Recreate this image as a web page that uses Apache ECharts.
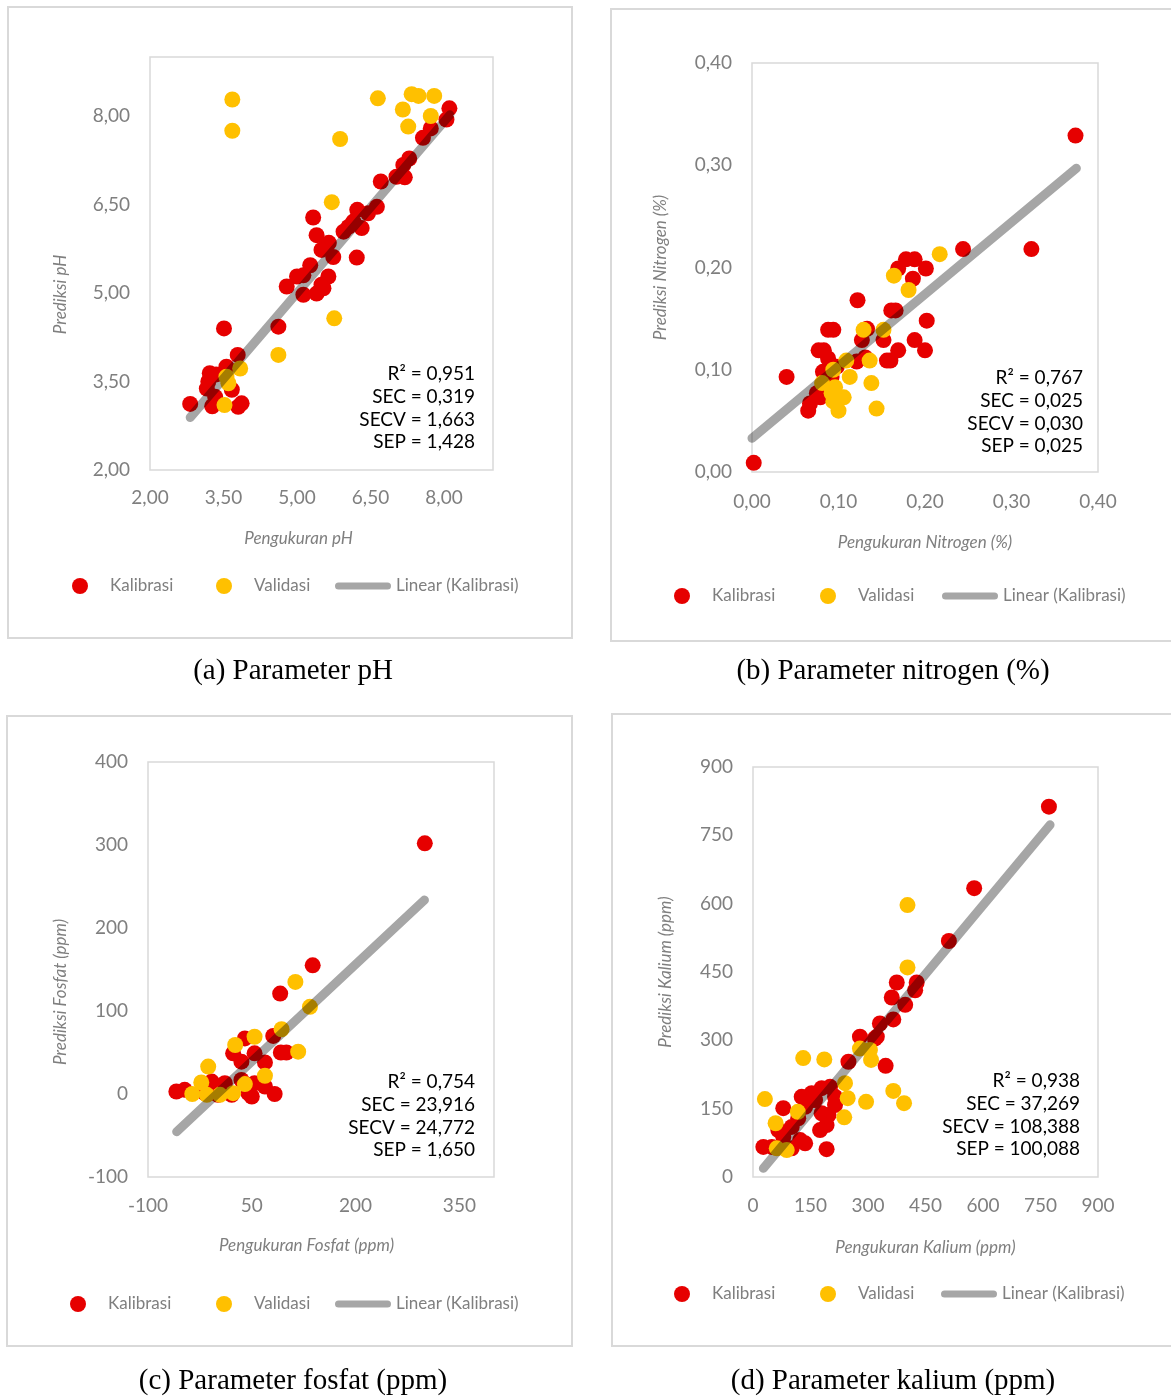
<!DOCTYPE html>
<html><head><meta charset="utf-8">
<script src="https://cdn.jsdelivr.net/npm/echarts@6/dist/echarts.min.js"></script>
<style>html,body{margin:0;padding:0;background:#fff}#c{width:1171px;height:1398px}</style>
</head><body><div id="c"></div><script>
// ---------- DATA ----------
const phKalibrasi = [[3.51,4.40],[4.62,4.43],[3.79,3.95],[3.56,3.75],[3.35,3.62],[3.22,3.64],[3.19,3.50],[3.16,3.38],[3.67,3.36],[3.33,3.24],[2.82,3.12],[3.27,3.08],[3.87,3.13],[3.80,3.07],
  [5.33,6.28],[6.23,6.41],[6.63,6.46],[6.15,6.21],[6.32,6.10],[6.05,6.12],[6.45,6.35],[5.95,6.04],[5.40,5.98],[5.57,5.78],[5.65,5.85],[5.74,5.61],[6.22,5.60],[5.50,5.73],[5.27,5.47],[5.13,5.30],[5.64,5.28],[5.00,5.28],[5.50,5.14],[4.79,5.11],[5.13,4.97],[5.40,4.99],[5.54,5.08],
  [6.71,6.89],[7.03,6.97],[7.20,6.96],[7.17,7.17],[7.29,7.28],[7.57,7.63],[7.73,7.79],[8.05,7.94],[8.11,8.13]];
const phValidasi = [[3.68,8.28],[3.68,7.75],[6.65,8.30],[7.34,8.37],[7.48,8.34],[7.80,8.34],[7.16,8.11],[7.73,8.00],[7.27,7.82],[5.88,7.61],[5.71,6.54],[5.76,4.57],[4.62,3.95],[3.84,3.72],[3.56,3.58],[3.60,3.47],[3.52,3.10]];
const phTrend = [[2.82,2.89],[8.12,8.02]];
const phStats = ['R² = 0,951','SEC = 0,319','SECV = 1,663','SEP = 1,428'];

const nKalibrasi = [[0.374,0.329],[0.323,0.218],[0.244,0.218],[0.002,0.009],[0.040,0.093],[0.122,0.168],[0.178,0.208],[0.188,0.208],[0.169,0.199],[0.201,0.199],[0.186,0.189],[0.161,0.158],[0.166,0.158],[0.202,0.148],[0.088,0.139],[0.094,0.139],[0.133,0.140],[0.188,0.129],[0.200,0.119],[0.077,0.119],[0.083,0.119],[0.152,0.129],[0.169,0.119],[0.160,0.109],[0.127,0.129],[0.131,0.112],[0.121,0.108],[0.088,0.111],[0.098,0.103],[0.082,0.098],[0.092,0.093],[0.075,0.077],[0.067,0.067],[0.065,0.060],[0.079,0.073],[0.156,0.109]];
const nValidasi = [[0.164,0.192],[0.181,0.178],[0.217,0.213],[0.129,0.139],[0.152,0.139],[0.109,0.109],[0.136,0.109],[0.094,0.100],[0.113,0.093],[0.081,0.087],[0.138,0.087],[0.096,0.083],[0.106,0.073],[0.094,0.069],[0.144,0.062],[0.100,0.060],[0.092,0.077]];
const nTrend = [[0.0,0.033],[0.375,0.297]];
const nStats = ['R² = 0,767','SEC = 0,025','SECV = 0,030','SEP = 0,025'];

const pKalibrasi = [[300,302],[138,155],[91,121],[81,70],[100,50],[92,50],[40,67],[23,49],[54,49],[35,39],[69,38],[-59,3],[-47,5],[83,0],[-8,15],[11,13],[35,17],[54,13],[69,9],[45,1],[1,-1],[21,-1],[-18,1],[50,-3]];
const pValidasi = [[113,135],[134,105],[93,78],[54,69],[26,59],[117,51],[-13,33],[69,22],[-23,14],[-36,0],[40,12],[23,1],[-15,-1],[4,-1]];
const pTrend = [[-58.6,-45.4],[299.5,233.7]];
const pStats = ['R² = 0,754','SEC = 23,916','SECV = 24,772','SEP = 1,650'];

const kKalibrasi = [[772,813],[577,634],[511,518],[375,427],[427,427],[362,394],[423,410],[397,378],[366,346],[331,337],[323,308],[279,308],[318,304],[346,244],[249,253],[201,198],[179,195],[153,184],[127,176],[214,176],[214,158],[136,154],[79,151],[179,140],[197,136],[118,129],[101,110],[192,114],[175,103],[123,81],[79,88],[66,103],[27,66],[49,66],[101,63],[136,74],[192,61],[162,169],[144,165]];
const kValidasi = [[403,597],[403,460],[366,189],[394,162],[131,261],[186,258],[279,282],[305,279],[308,257],[240,206],[247,173],[295,165],[31,171],[117,143],[59,118],[238,131],[62,63],[88,59]];
const kTrend = [[27,19],[775,773]];
const kStats = ['R² = 0,938','SEC = 37,269','SECV = 108,388','SEP = 100,088'];

const seriesNames = ['Kalibrasi','Validasi','Linear (Kalibrasi)'];
const captions = ['(a) Parameter pH','(b) Parameter nitrogen (%)','(c) Parameter fosfat (ppm)','(d) Parameter kalium (ppm)'];
const xNames = ['Pengukuran pH','Pengukuran Nitrogen (%)','Pengukuran Fosfat (ppm)','Pengukuran Kalium (ppm)'];
const yNames = ['Prediksi pH','Prediksi Nitrogen (%)','Prediksi Fosfat (ppm)','Prediksi Kalium (ppm)'];

// ---------- LAYOUT / STYLE ----------
const RED = '#e60000', YEL = '#ffc000', GRAY = '#a6a6a6', TXT = '#7f7f7f';
const FONT = 'Lato';
const fmt2 = v => v.toFixed(2).replace('.', ',');
const fmt0 = v => String(Math.round(v));

const panels = [
  {kal: phKalibrasi, val: phValidasi, trend: phTrend, stats: phStats,
   grid: {left:150, top:57, width:343, height:413},
   x: {min:2, max:9, interval:1.5, fmt: fmt2, showMax:false}, y: {min:2, max:9, interval:1.5, fmt: fmt2, showMax:false},
   xGap: 60, yGap: 81, xPad: [0,46,0,0], yPad: [0,62,0,0], xMargin: 18,
   box: [8,7,564,631], statsPos: [475,374], legY: 586, leg: [80,224,335], cap: [293,671]},
  {kal: nKalibrasi, val: nValidasi, trend: nTrend, stats: nStats,
   grid: {left:752, top:63, width:346, height:409},
   x: {min:0, max:0.4, interval:0.1, fmt: fmt2, showMax:true}, y: {min:0, max:0.4, interval:0.1, fmt: fmt2, showMax:true},
   xGap: 62, yGap: 83, xPad: [0,0,0,0], yPad: [0,0,0,0], xMargin: 20,
   box: [611,9,580,632], statsPos: [1083,378], legY: 596, leg: [682,828,942], cap: [893,671]},
  {kal: pKalibrasi, val: pValidasi, trend: pTrend, stats: pStats,
   grid: {left:148, top:762, width:346, height:415},
   x: {min:-100, max:400, interval:150, fmt: fmt0, showMax:false}, y: {min:-100, max:400, interval:100, fmt: fmt0, showMax:true},
   xGap: 60, yGap: 79, xPad: [0,29,0,0], yPad: [0,45,0,0], xMargin: 19,
   box: [7,716,565,630], statsPos: [475,1082], legY: 1304, leg: [78,224,335], cap: [293,1381]},
  {kal: kKalibrasi, val: kValidasi, trend: kTrend, stats: kStats,
   grid: {left:753, top:767, width:345, height:410},
   x: {min:0, max:900, interval:150, fmt: fmt0, showMax:true}, y: {min:0, max:900, interval:150, fmt: fmt0, showMax:true},
   xGap: 62, yGap: 79, xPad: [0,0,0,0], yPad: [0,0,0,0], xMargin: 19,
   box: [612,714,580,632], statsPos: [1080,1081], legY: 1294, leg: [682,828,941], cap: [893,1381]}
];

const option = {animation:false, backgroundColor:'#fff', grid:[], xAxis:[], yAxis:[], series:[], legend:[], graphic:[]};
const capsule = 'path://M3.5,0H52.5A3.5,3.5,0,0,1,52.5,7H3.5A3.5,3.5,0,0,1,3.5,0Z';

panels.forEach((p, i) => {
  option.grid.push(Object.assign({show:true, borderColor:'#d9d9d9', borderWidth:1.5, backgroundColor:'transparent'}, p.grid));
  const axisBase = (a, name, gap, pad, margin) => ({
    gridIndex:i, type:'value', min:a.min, max:a.max, interval:a.interval,
    axisLine:{show:false, onZero:false}, axisTick:{show:false}, splitLine:{show:false},
    axisLabel:{color:TXT, fontSize:19, fontFamily:FONT, margin: margin, formatter:a.fmt, showMaxLabel:a.showMax, showMinLabel:true},
    name:name, nameLocation:'middle', nameGap:gap,
    nameTextStyle:{color:TXT, fontSize:17, fontStyle:'italic', fontFamily:FONT, padding:pad}
  });
  option.xAxis.push(axisBase(p.x, xNames[i], p.xGap, p.xPad, p.xMargin));
  option.yAxis.push(axisBase(p.y, yNames[i], p.yGap, p.yPad, 20));
  option.series.push({type:'scatter', name:seriesNames[0], xAxisIndex:i, yAxisIndex:i, symbol:'circle', symbolSize:16, itemStyle:{color:RED, opacity:1}, z:2, data:p.kal});
  option.series.push({type:'scatter', name:seriesNames[1], xAxisIndex:i, yAxisIndex:i, symbol:'circle', symbolSize:16, itemStyle:{color:YEL, opacity:1}, z:3, data:p.val});
  option.series.push({type:'line', name:seriesNames[2], xAxisIndex:i, yAxisIndex:i, symbol:'none', color:GRAY, itemStyle:{color:GRAY},
    lineStyle:{width:9, color:GRAY, cap:'round'}, blendMode:'multiply', z:4, silent:true, data:p.trend});
  const legText = {color:TXT, fontSize:17, fontFamily:FONT, lineHeight:20};
  option.legend.push({left:p.leg[0]-8, top:p.legY-10, padding:0, itemWidth:50, itemHeight:16, selectedMode:false, textStyle:legText, data:[{name:seriesNames[0], icon:'circle'}]});
  option.legend.push({left:p.leg[1]-8, top:p.legY-10, padding:0, itemWidth:50, itemHeight:16, selectedMode:false, textStyle:legText, data:[{name:seriesNames[1], icon:'circle'}]});
  option.legend.push({left:p.leg[2], top:p.legY-10, padding:0, itemWidth:56, itemHeight:7, selectedMode:false, textStyle:legText,
    itemStyle:{color:GRAY, borderWidth:0}, lineStyle:{width:0}, data:[{name:seriesNames[2], icon:capsule}]});
  option.graphic.push({type:'rect', z:-10, silent:true, shape:{x:p.box[0], y:p.box[1], width:p.box[2], height:p.box[3]}, style:{fill:'none', stroke:'#d9d9d9', lineWidth:2}});
  option.graphic.push({type:'text', silent:true, x:p.statsPos[0], y:p.statsPos[1]-11.35,
    style:{text:p.stats.join('\n'), align:'right', verticalAlign:'top', fontSize:19, lineHeight:22.7, fontFamily:FONT, fill:'#000'}});
  option.graphic.push({type:'text', silent:true, x:p.cap[0], y:p.cap[1],
    style:{text:captions[i], align:'center', verticalAlign:'middle', fontSize:29, fontFamily:'"Liberation Serif", serif', fill:'#000'}});
});

const chart = echarts.init(document.getElementById('c'), null, {renderer:'canvas'});
chart.setOption(option);
</script></body></html>
